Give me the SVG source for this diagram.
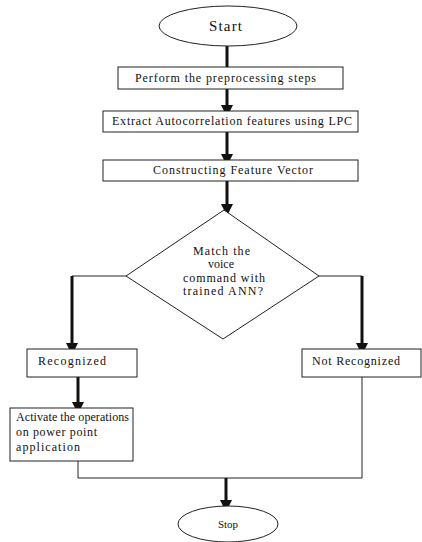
<svg xmlns="http://www.w3.org/2000/svg" width="422" height="542" viewBox="0 0 422 542">
<style>
.shape{fill:#fff;stroke:#222;stroke-width:1}
.thick{stroke:#111;stroke-width:3;fill:none}
.thin{stroke:#222;stroke-width:1;fill:none}
text{fill:#111}
</style>
<defs>
<marker id="ah" markerWidth="4" markerHeight="4" refX="2" refY="2" orient="auto" markerUnits="strokeWidth" viewBox="0 0 4 4">
<path d="M0,0 L4,2 L0,4 Z" fill="#111"/>
</marker>
</defs>
<rect width="422" height="542" fill="#fff"/>
<g id="connectors">
<line class="thick" x1="227" y1="46" x2="227" y2="67"/>
<line class="thick" x1="227" y1="89" x2="227" y2="111" marker-end="url(#ah)"/>
<line class="thick" x1="227" y1="132" x2="227" y2="160" marker-end="url(#ah)"/>
<line class="thick" x1="227" y1="181" x2="227" y2="210" marker-end="url(#ah)"/>
<polyline class="thin" points="126,276 72,276 72,300"/>
<line class="thick" x1="72" y1="276" x2="72" y2="349" marker-end="url(#ah)"/>
<polyline class="thin" points="319,276 362,276 362,300"/>
<line class="thick" x1="362" y1="276" x2="362" y2="349" marker-end="url(#ah)"/>
<line class="thick" x1="78" y1="377" x2="78" y2="408" marker-end="url(#ah)"/>
<polyline class="thin" points="78,461 78,478 362,478 362,377"/>
<line class="thick" x1="226" y1="478" x2="226" y2="506" marker-end="url(#ah)"/>
</g>
<g font-family="'Liberation Serif','Times New Roman',serif" font-size="12">
<g id="start">
<ellipse class="shape" cx="228" cy="26" rx="69" ry="20"/>
<text x="209" y="31" font-size="15" textLength="33" lengthAdjust="spacing">Start</text>
</g>
<g id="preprocess">
<rect class="shape" x="118" y="67" width="225" height="22"/>
<text x="135" y="82" textLength="181" lengthAdjust="spacing">Perform the preprocessing steps</text>
</g>
<g id="extract">
<rect class="shape" x="103" y="111" width="255" height="21"/>
<text x="112" y="125" textLength="240" lengthAdjust="spacing">Extract Autocorrelation features using LPC</text>
</g>
<g id="construct">
<rect class="shape" x="103" y="160" width="255" height="21"/>
<text x="153" y="174" textLength="160" lengthAdjust="spacing">Constructing Feature Vector</text>
</g>
<g id="decision">
<polygon class="shape" points="224,210 319,276 223,339 126,276"/>
<text x="193" y="255" textLength="57" lengthAdjust="spacing">Match the</text>
<text x="208" y="268">voice</text>
<text x="183" y="282" textLength="82" lengthAdjust="spacing">command with</text>
<text x="183" y="295" textLength="80" lengthAdjust="spacing">trained ANN?</text>
</g>
<g id="recognized">
<rect class="shape" x="27" y="349" width="110" height="28"/>
<text x="38" y="365" textLength="68" lengthAdjust="spacing">Recognized</text>
</g>
<g id="not-recognized">
<rect class="shape" x="302" y="349" width="119" height="28"/>
<text x="312" y="365" textLength="88" lengthAdjust="spacing">Not Recognized</text>
</g>
<g id="activate">
<rect class="shape" x="10" y="408" width="123" height="53"/>
<text x="16" y="421" textLength="113" lengthAdjust="spacing">Activate the operations</text>
<text x="16" y="436" textLength="81" lengthAdjust="spacing">on power point</text>
<text x="16" y="451" textLength="64" lengthAdjust="spacing">application</text>
</g>
<g id="stop">
<ellipse class="shape" cx="228" cy="524" rx="50" ry="18"/>
<text x="228" y="528" font-size="11" text-anchor="middle">Stop</text>
</g>
</g>
</svg>
